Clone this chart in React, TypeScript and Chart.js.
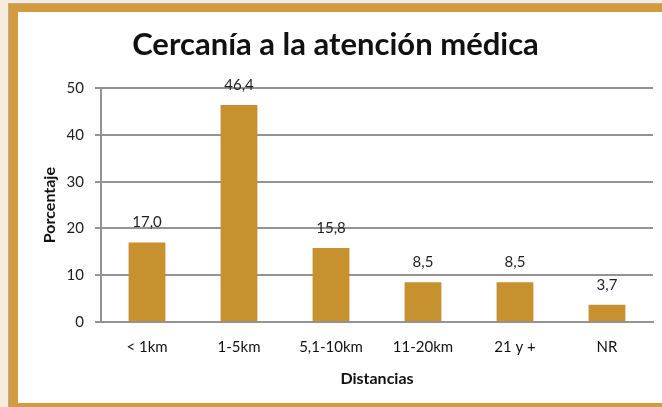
import React, { useEffect, useRef } from "react";
import { Chart, registerables } from "chart.js";

Chart.register(...registerables);

const titleText = "Cercanía a la atención médica";
const categories = ["< 1km", "1-5km", "5,1-10km", "11-20km", "21 y +", "NR"];
const percentages = [17.0, 46.4, 15.8, 8.5, 8.5, 3.7];
const yTitle = "Porcentaje";
const xTitle = "Distancias";

const FONT = "Lato, 'Open Sans', sans-serif";

const dataLabels = {
  id: "dataLabels",
  afterDatasetsDraw(chart: any) {
    const ctx = chart.ctx;
    const meta = chart.getDatasetMeta(0);
    const values = chart.data.datasets[0].data as number[];
    ctx.save();
    ctx.font = `15px ${FONT}`;
    ctx.fillStyle = "#1f1f1f";
    ctx.textAlign = "center";
    ctx.textBaseline = "middle";
    meta.data.forEach((bar: any, i: number) => {
      const txt = values[i].toFixed(1).replace(".", ",");
      ctx.fillText(txt, bar.x, bar.y - 20);
    });
    ctx.restore();
  },
};

export default function App() {
  const ref = useRef<HTMLCanvasElement>(null);
  useEffect(() => {
    if (!ref.current) return;
    const chart = new Chart(ref.current, {
      type: "bar",
      data: {
        labels: categories,
        datasets: [
          {
            data: percentages,
            backgroundColor: "#c8912f",
            borderWidth: 0,
            categoryPercentage: 1,
            barPercentage: 0.4,
          },
        ],
      },
      options: {
        animation: false,
        responsive: false,
        maintainAspectRatio: false,
        layout: { padding: { top: 0, right: 9, bottom: 0, left: 0 } },
        plugins: {
          legend: { display: false },
          tooltip: { enabled: false },
          title: {
            display: true,
            text: titleText,
            color: "#111111",
            font: { family: FONT, size: 31, weight: "bold" },
            padding: { top: 14, bottom: 25 },
          },
        },
        scales: {
          x: {
            grid: { display: false, drawTicks: false },
            border: { display: true, color: "#939393", width: 2 },
            ticks: {
              color: "#111111",
              font: { family: FONT, size: 15 },
              padding: 16,
              maxRotation: 0,
              autoSkip: false,
            },
            title: {
              display: true,
              text: xTitle,
              color: "#111111",
              font: { family: FONT, size: 16, weight: "bold" },
              padding: { top: 0, bottom: 15 },
            },
            afterFit(scale: any) {
              scale.height = 81;
            },
          },
          y: {
            min: 0,
            max: 50,
            ticks: {
              stepSize: 10,
              color: "#1f1f1f",
              font: { family: FONT, size: 15 },
              padding: 11,
            },
            grid: {
              color: "#939393",
              lineWidth: 2,
              tickLength: 6,
              drawTicks: true,
            },
            border: { display: true, color: "#939393", width: 2 },
            title: {
              display: true,
              text: yTitle,
              color: "#111111",
              font: { family: FONT, size: 16, weight: "bold" },
              padding: { top: 22, bottom: 0 },
            },
            afterFit(scale: any) {
              scale.width = 83;
            },
          },
        },
      },
      plugins: [dataLabels],
    });
    return () => chart.destroy();
  }, []);

  return (
    <div
      style={{
        position: "fixed",
        left: 0,
        top: 0,
        width: 662,
        height: 407,
        background: "#f6ecdc",
        overflow: "hidden",
      }}
    >
      <div
        style={{
          position: "absolute",
          left: 9,
          top: 4,
          width: 700,
          height: 407,
          boxSizing: "border-box",
          borderLeft: "9px solid #d49a3e",
          borderTop: "8px solid #d49a3e",
          borderBottom: "8px solid #d49a3e",
          background: "#ffffff",
          boxShadow: "0 0 0 1px #b8ad9c",
        }}
      />
      <canvas
        ref={ref}
        width={644}
        height={391}
        style={{ position: "absolute", left: 18, top: 12, width: 644, height: 391 }}
      />
    </div>
  );
}
